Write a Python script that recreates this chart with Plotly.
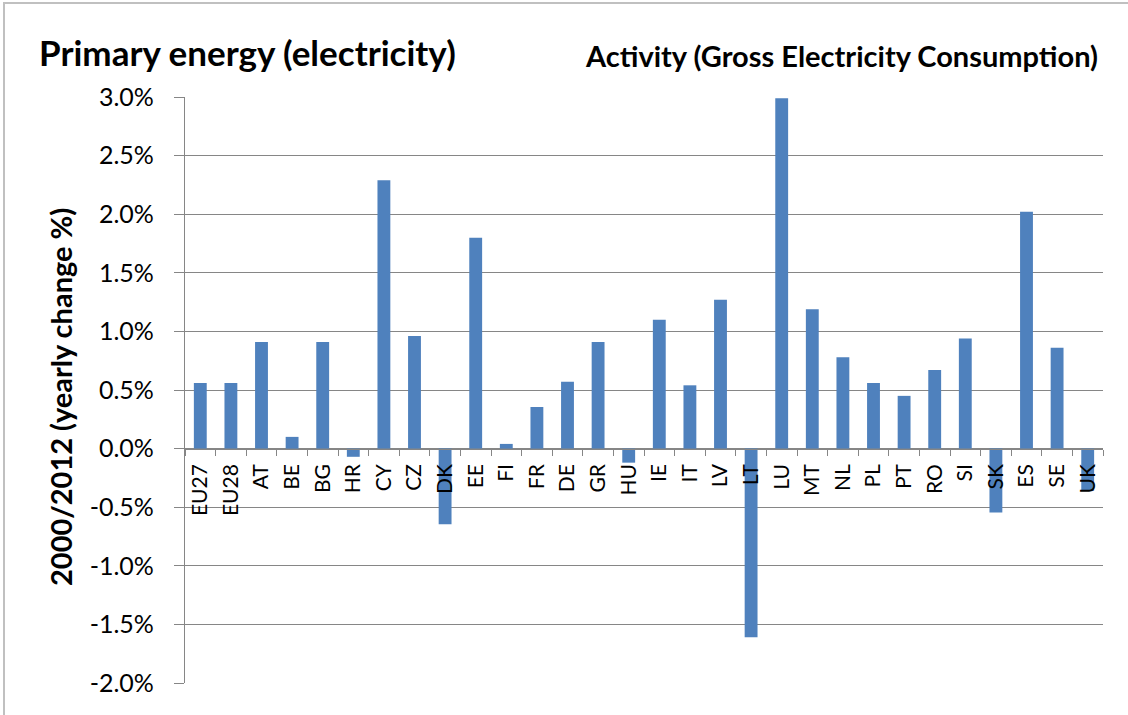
import plotly.graph_objects as go

# Yearly change of gross electricity consumption, 2000/2012 (%)
countries = ["EU27", "EU28", "AT", "BE", "BG", "HR", "CY", "CZ", "DK", "EE",
             "FI", "FR", "DE", "GR", "HU", "IE", "IT", "LV", "LT", "LU",
             "MT", "NL", "PL", "PT", "RO", "SI", "SK", "ES", "SE", "UK"]
yearly_change = [0.56, 0.56, 0.91, 0.10, 0.91, -0.07, 2.29, 0.96, -0.645, 1.80,
                 0.04, 0.355, 0.57, 0.91, -0.12, 1.10, 0.54, 1.27, -1.61, 2.99,
                 1.19, 0.78, 0.56, 0.45, 0.67, 0.94, -0.545, 2.02, 0.86, -0.36]

y_min, y_max = -2.0, 3.0
y_ticks = [-2.0, -1.5, -1.0, -0.5, 0.0, 0.5, 1.0, 1.5, 2.0, 2.5, 3.0]
y_tick_labels = [f"{v:.1f}%" for v in y_ticks]

W, H = 1128, 715
M_LEFT, M_RIGHT, M_TOP, M_BOTTOM = 185, 25, 97, 32
PLOT_W = W - M_LEFT - M_RIGHT
PLOT_H = H - M_TOP - M_BOTTOM


def px_x(px):
    return (px - M_LEFT) / PLOT_W


def px_y(py):
    return (H - M_BOTTOM - py) / PLOT_H


GRID = "#868686"
BAR = "#4F81BD"
FONT = "Lato, Open Sans, sans-serif"

fig = go.Figure(
    go.Bar(x=countries, y=yearly_change, marker=dict(color=BAR, line=dict(width=0)))
)

fig.update_layout(
    width=W,
    height=H,
    margin=dict(l=M_LEFT, r=M_RIGHT, t=M_TOP, b=M_BOTTOM, autoexpand=False),
    paper_bgcolor="white",
    plot_bgcolor="white",
    bargap=0.58,
    showlegend=False,
    font=dict(family=FONT, color="black"),
)

fig.update_yaxes(
    range=[y_min, y_max],
    tickmode="array",
    tickvals=y_ticks,
    ticktext=y_tick_labels,
    tickfont=dict(size=25, family=FONT),
    ticklabelstandoff=15,
    showgrid=True,
    gridcolor=GRID,
    gridwidth=1.2,
    zeroline=False,
    showline=True,
    linecolor=GRID,
    linewidth=1.2,
    ticks="outside",
    ticklen=10,
    tickcolor=GRID,
    automargin=False,
)

# Category axis drawn along the zero line
zero_pos = (0 - y_min) / (y_max - y_min)
fig.update_xaxes(
    type="category",
    anchor="free",
    position=zero_pos,
    showline=True,
    linecolor=GRID,
    linewidth=1.2,
    ticks="outside",
    tickson="boundaries",
    ticklen=6,
    tickcolor=GRID,
    tickangle=-90,
    ticklabelstandoff=6,
    tickfont=dict(size=21, family=FONT),
    showgrid=False,
    automargin=False,
)

fig.add_annotation(
    text="<b>2000/2012 (yearly change %)</b>",
    xref="paper", yref="paper", x=px_x(60), y=px_y(397),
    xanchor="center", yanchor="middle", textangle=-90, showarrow=False,
    font=dict(size=29, family=FONT),
)
fig.add_annotation(
    text="<b>Primary energy (electricity)</b>",
    xref="paper", yref="paper", x=px_x(37), y=px_y(52),
    xanchor="left", yanchor="middle", showarrow=False,
    font=dict(size=35, family=FONT),
)
fig.add_annotation(
    text="<b>Activity (Gross Electricity Consumption)</b>",
    xref="paper", yref="paper", x=px_x(1100), y=px_y(56),
    xanchor="right", yanchor="middle", showarrow=False,
    font=dict(size=29, family=FONT),
)

# Chart-area border
fig.add_shape(
    type="rect", xref="paper", yref="paper",
    x0=px_x(4), y0=px_y(H + 20), x1=px_x(W + 20), y1=px_y(3),
    line=dict(color="#c0c0c0", width=2), fillcolor="rgba(0,0,0,0)", layer="below",
)

fig.write_html("out.html")
